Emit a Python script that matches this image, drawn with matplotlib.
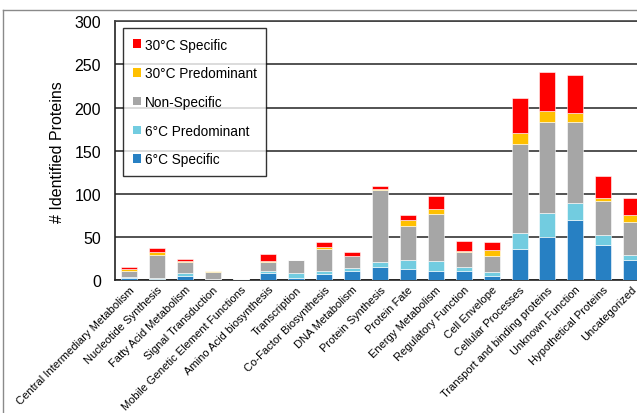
import matplotlib
matplotlib.use("Agg")
import matplotlib.pyplot as plt
from matplotlib.lines import Line2D
from matplotlib.patches import Patch
import numpy as np

plt.rcParams['font.family'] = ['Liberation Sans', 'DejaVu Sans']

categories = [
    "Central Intermediary Metabolism", "Nucleotide Synthesis", "Fatty Acid Metabolism",
    "Signal Transduction", "Mobile Genetic Element Functions", "Amino Acid biosynthesis",
    "Transcription", "Co-Factor Biosynthesis", "DNA Metabolism", "Protein Synthesis",
    "Protein Fate", "Energy Metabolism", "Regulatory Function", "Cell Envelope",
    "Cellular Processes", "Transport and binding proteins", "Unknown Function",
    "Hypothetical Proteins", "Uncategorized",
]

spec_6c = [2, 1, 5, 1, 0, 8, 2, 7, 11, 15, 13, 11, 11, 5, 36, 50, 69, 41, 23]
pred_6c = [1, 1, 3, 0, 1, 3, 6, 4, 3, 6, 10, 11, 4, 4, 18, 28, 20, 11, 6]
non_spec = [8, 27, 13, 8, 0, 10, 15, 25, 14, 83, 40, 54, 18, 19, 104, 105, 94, 40, 38]
pred_30c = [2, 3, 1, 1, 0, 1, 0, 2, 0, 1, 6, 6, 1, 7, 12, 13, 11, 3, 8]
spec_30c = [2, 5, 2, 0, 0, 8, 0, 6, 5, 4, 6, 15, 11, 9, 41, 45, 44, 26, 20]

series = [
    ("6°C Specific", spec_6c, "#2780C3"),
    ("6°C Predominant", pred_6c, "#72CCE0"),
    ("Non-Specific", non_spec, "#A6A6A6"),
    ("30°C Predominant", pred_30c, "#FFC000"),
    ("30°C Specific", spec_30c, "#FF0000"),
]

W, H = 637, 414
fig = plt.figure(figsize=(W / 100, H / 100), dpi=100)

# axes box in pixels; the right part runs past the canvas edge
left_px, right_px = 115.0, 115.0 + 27.9 * 19
top_px, base_px = 22.3, 281.0
ax = fig.add_axes([left_px / W, (H - base_px) / H,
                   (right_px - left_px) / W, (base_px - top_px) / H])

x = np.arange(len(categories))
bottom = np.zeros(len(categories))
handles = []
for name, vals, col in series:
    vals = np.array(vals, dtype=float)
    ax.bar(x, vals, width=0.57, bottom=bottom, color=col,
           edgecolor="white", linewidth=0.4, zorder=3)
    bottom += vals
    handles.append(Patch(facecolor=col, edgecolor="none", label=name))

ax.set_xlim(-0.5, len(categories) - 0.5)
ax.set_ylim(0, 300)
ax.set_yticks([0, 50, 100, 150, 200, 250, 300])
ax.tick_params(axis="y", length=0, pad=10, labelsize=11.5)
ax.tick_params(axis="x", length=0, pad=3)
ax.set_xticks(x)
ax.set_xticklabels(categories, rotation=45, ha="right",
                   rotation_mode="anchor", fontsize=8)

ax.yaxis.grid(True, color="#444444", linewidth=1.3, zorder=0)
ax.set_axisbelow(True)
for s in ["left", "bottom", "top", "right"]:
    ax.spines[s].set_color("#222222")
    ax.spines[s].set_linewidth(1.2)
ax.spines["top"].set_color("#444444")

ax.set_ylabel("# Identified Proteins", fontsize=11.5, labelpad=7)

leg = ax.legend(handles=handles[::-1], loc="upper left",
                bbox_to_anchor=((123 - left_px) / (right_px - left_px),
                                (base_px - 29) / (base_px - top_px)),
                fontsize=9.8, frameon=True, fancybox=False,
                handlelength=0.6, handleheight=0.6, handletextpad=0.3,
                labelspacing=1.08, borderpad=0.7, borderaxespad=0)
leg.get_frame().set_edgecolor("black")
leg.get_frame().set_linewidth(1.0)

# outer chart border
fig.add_artist(Line2D([3 / W, 1], [(H - 11) / H, (H - 11) / H],
                      transform=fig.transFigure, color="#8a8a8a", linewidth=1.0))
fig.add_artist(Line2D([3 / W, 3 / W], [0, (H - 11) / H],
                      transform=fig.transFigure, color="#8a8a8a", linewidth=1.0))

fig.savefig("out.png", dpi=100)
